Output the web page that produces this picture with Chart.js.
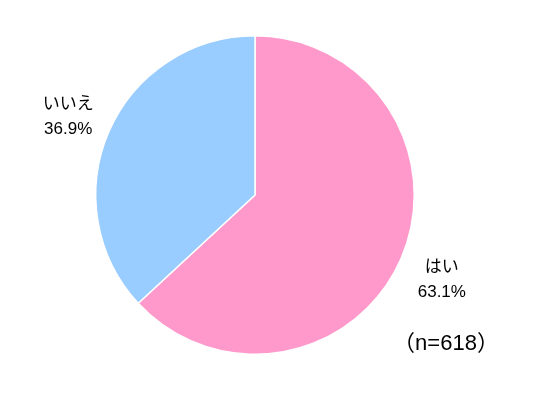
<!DOCTYPE html>
<html>
<head>
<meta charset="utf-8">
<script src="https://cdn.jsdelivr.net/npm/chart.js@4.4.0/dist/chart.umd.min.js"></script>
<style>
  html, body { margin: 0; padding: 0; background: #fff; }
  #wrap { width: 552px; height: 407px; }
</style>
</head>
<body>
<div id="wrap"><canvas id="chart"></canvas></div>
<script>
const labels = ['はい', 'いいえ'];
const values = [63.1, 36.9];
const colors = ['#FF99CC', '#99CCFF'];
const sampleNote = '（n=618）';

const FONT = '"Liberation Sans", "Noto Sans CJK JP", sans-serif';

// labels outside each slice, along its middle angle
const outsideLabels = {
  id: 'outsideLabels',
  afterDatasetsDraw (chart) {
    const ctx = chart.ctx;
    const meta = chart.getDatasetMeta(0);
    ctx.save();
    ctx.fillStyle = '#000';
    ctx.font = '17px ' + FONT;
    ctx.textAlign = 'center';
    ctx.textBaseline = 'middle';
    meta.data.forEach((arc, i) => {
      const mid = (arc.startAngle + arc.endAngle) / 2;
      const r = arc.outerRadius * 1.28;
      const x = arc.x + Math.cos(mid) * r;
      const y = arc.y + Math.sin(mid) * r + 3;
      ctx.fillText(labels[i], x, y - 12);
      ctx.fillText(values[i].toFixed(1) + '%', x, y + 13);
    });
    ctx.font = '22px ' + FONT;
    ctx.fillText(sampleNote, 446, 344);
    ctx.restore();
  }
};

new Chart(document.getElementById('chart'), {
  type: 'pie',
  data: {
    labels: labels,
    datasets: [{
      data: values,
      backgroundColor: colors,
      borderColor: '#ffffff',
      borderWidth: 1.5
    }]
  },
  options: {
    responsive: true,
    maintainAspectRatio: false,
    animation: false,
    layout: { padding: { left: 95, right: 137, top: 35, bottom: 52 } },
    plugins: {
      legend: { display: false },
      tooltip: { enabled: false }
    }
  },
  plugins: [outsideLabels]
});
</script>
</body>
</html>
